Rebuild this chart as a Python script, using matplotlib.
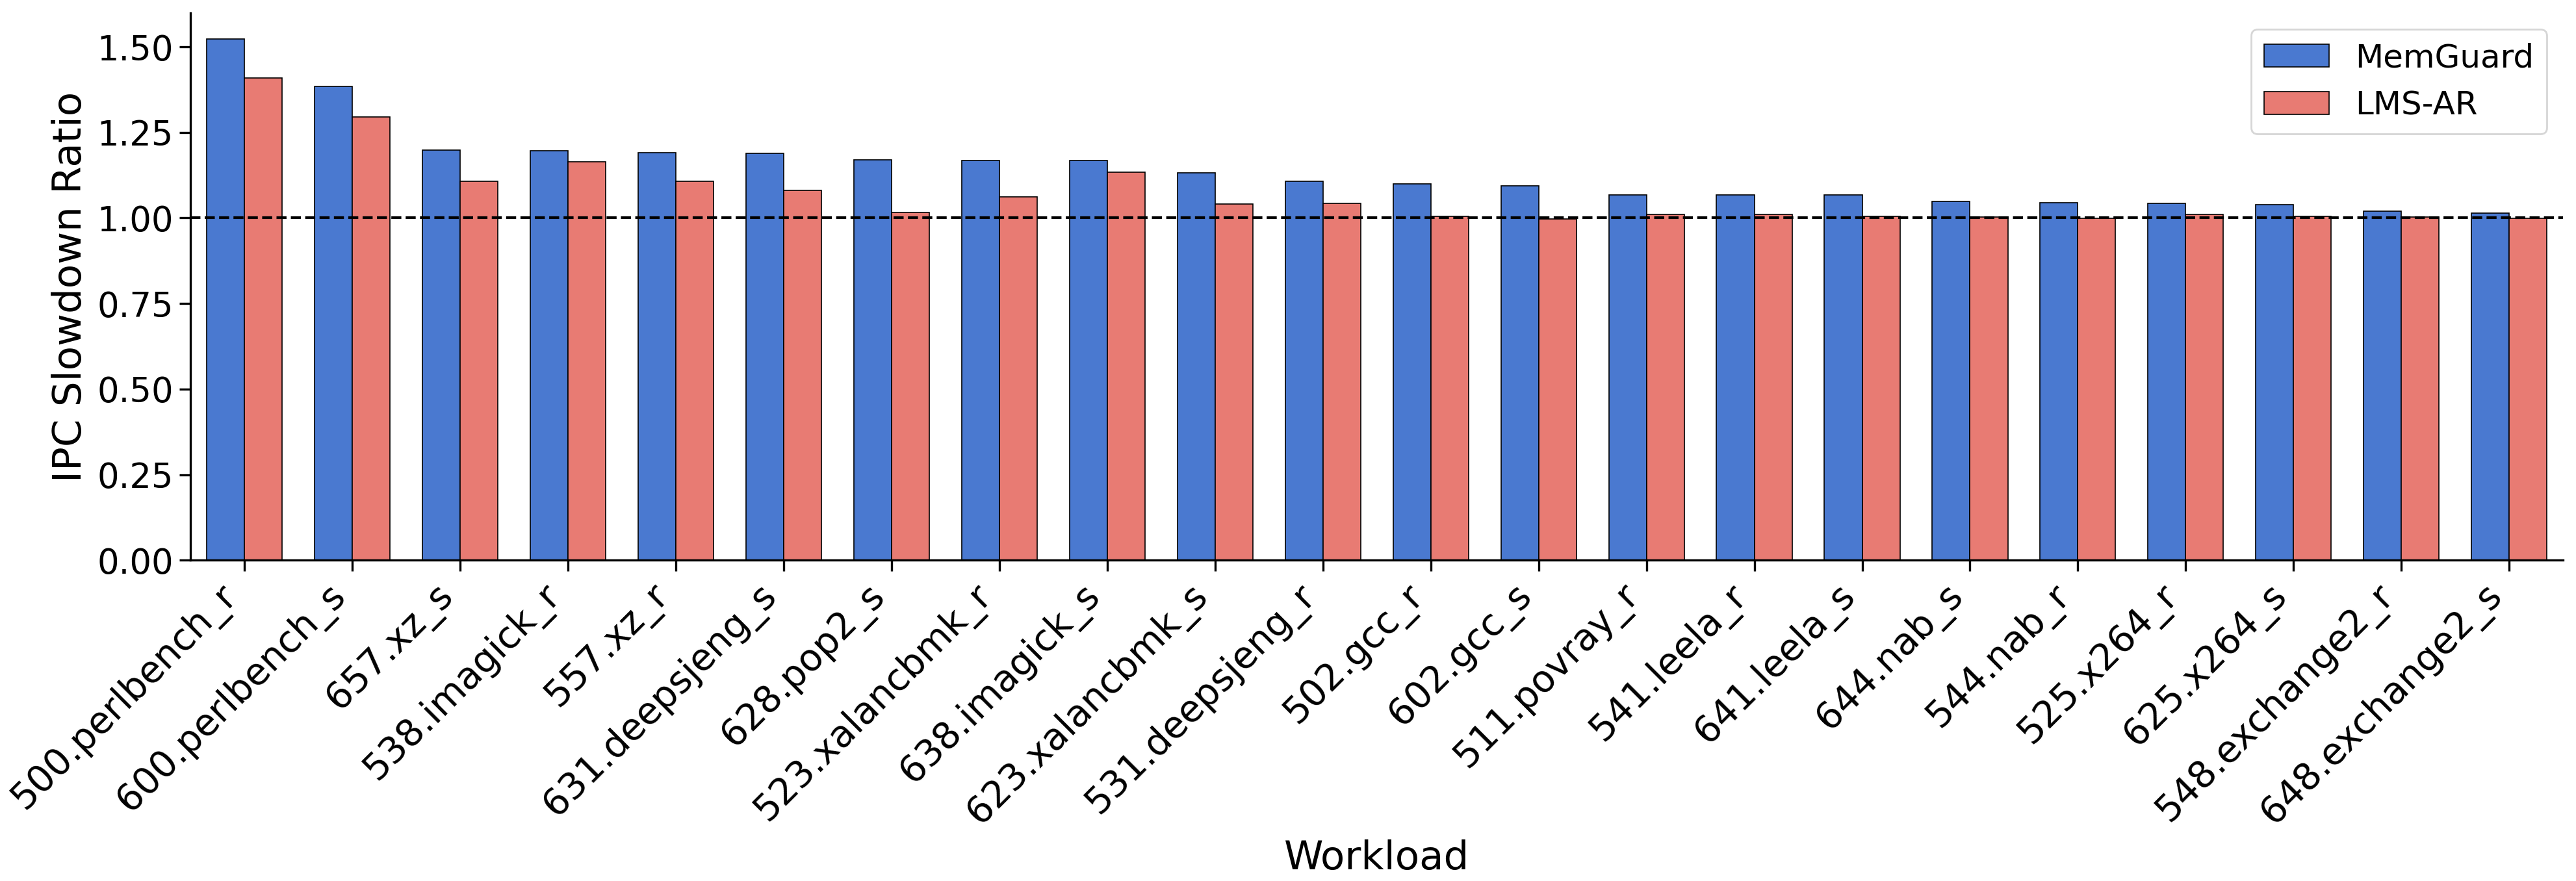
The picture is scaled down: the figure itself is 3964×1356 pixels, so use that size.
import matplotlib
matplotlib.use("Agg")
import matplotlib.pyplot as plt
import numpy as np

# workloads, sorted by MemGuard slowdown
workloads = ["500.perlbench_r", "600.perlbench_s", "657.xz_s", "538.imagick_r",
             "557.xz_r", "631.deepsjeng_s", "628.pop2_s", "523.xalancbmk_r",
             "638.imagick_s", "623.xalancbmk_s", "531.deepsjeng_r", "502.gcc_r",
             "602.gcc_s", "511.povray_r", "541.leela_r", "641.leela_s",
             "644.nab_s", "544.nab_r", "525.x264_r", "625.x264_s",
             "548.exchange2_r", "648.exchange2_s"]

memguard = [1.522, 1.385, 1.199, 1.196, 1.191, 1.188, 1.169, 1.167,
            1.167, 1.131, 1.108, 1.099, 1.093, 1.067, 1.067, 1.067,
            1.048, 1.044, 1.042, 1.039, 1.020, 1.014]

lms_ar = [1.409, 1.296, 1.107, 1.165, 1.107, 1.080, 1.017, 1.061,
          1.134, 1.041, 1.042, 1.004, 0.998, 1.011, 1.010, 1.005,
          1.003, 0.999, 1.010, 1.005, 1.003, 0.999]

x = np.arange(len(workloads))
width = 0.35

fig, ax = plt.subplots(figsize=(19.82, 6.78), dpi=200)

ax.bar(x - width / 2, memguard, width, label="MemGuard",
       color="#4a79d0", edgecolor="black", linewidth=0.6)
ax.bar(x + width / 2, lms_ar, width, label="LMS-AR",
       color="#e87b73", edgecolor="black", linewidth=0.6)

# baseline
ax.axhline(1.0, color="black", linestyle="--", linewidth=1.5)

ax.set_xlim(-0.5, len(workloads) - 0.5)
ax.set_xticks(x)
ax.set_xticklabels(workloads, rotation=45, ha="right")
ax.set_yticks([0, 0.25, 0.5, 0.75, 1.0, 1.25, 1.5])
ax.tick_params(axis="x", labelsize=20.5, length=6, width=1.2)
ax.tick_params(axis="y", labelsize=19, length=6, width=1.2)

ax.set_xlabel("Workload", fontsize=22)
ax.set_ylabel("IPC Slowdown Ratio", fontsize=22)

ax.spines["top"].set_visible(False)
ax.spines["right"].set_visible(False)
ax.spines["left"].set_linewidth(1.2)
ax.spines["bottom"].set_linewidth(1.2)

ax.legend(fontsize=18, loc="upper right")

fig.subplots_adjust(left=0.074, right=0.995, top=0.985, bottom=0.364)
fig.savefig("out.png", dpi=200)
